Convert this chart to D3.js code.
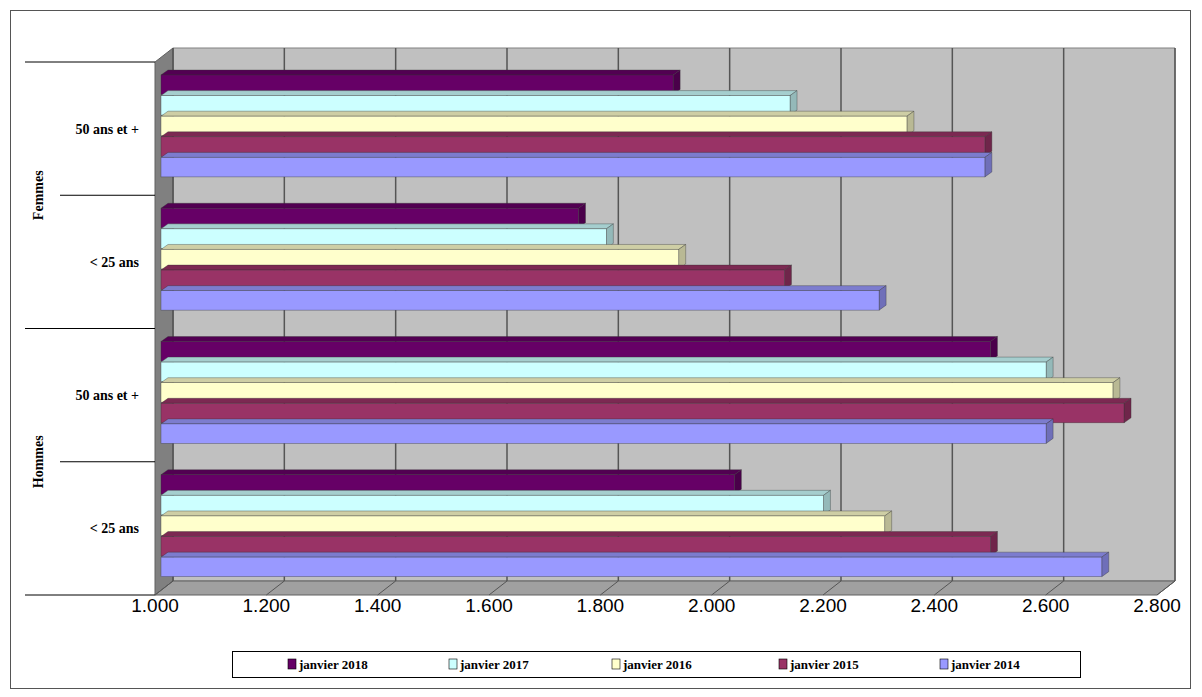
<!DOCTYPE html>
<html><head><meta charset="utf-8">
<script src="https://cdn.jsdelivr.net/npm/d3@7"></script>
<style>body{margin:0;background:#fff}</style>
</head><body>
<svg id="chart" width="1202" height="697"></svg>
<script>
// categories bottom to top (as drawn) and series
var groups = ["Hommes", "Femmes"];
var ages = ["< 25 ans", "50 ans et +", "< 25 ans", "50 ans et +"];
var series = ["janvier 2018", "janvier 2017", "janvier 2016", "janvier 2015", "janvier 2014"];
var colors = ["#660066", "#CCFFFF", "#FFFFCC", "#993366", "#9999FF"];
// values[category][series]
var values = [
  [2.030, 2.190, 2.300, 2.490, 2.690],
  [2.490, 2.590, 2.710, 2.730, 2.590],
  [1.750, 1.800, 1.930, 2.120, 2.290],
  [1.920, 2.130, 2.340, 2.480, 2.480]
];
var ticks = [1.0, 1.2, 1.4, 1.6, 1.8, 2.0, 2.2, 2.4, 2.6, 2.8];

var svg = d3.select("#chart");
svg.append("rect").attr("x", 10.5).attr("y", 10.5).attr("width", 1180).attr("height", 678)
  .attr("fill", "#fff").attr("stroke", "#555");

var x0 = 155, x1 = 1157, yTop = 62, yBot = 595;
var dx = 18, dy = -14;
var x = d3.scaleLinear().domain([1.0, 2.8]).range([x0, x1]);
var y = d3.scaleBand().domain(d3.range(4)).range([yBot, yTop]);

// walls
svg.append("polygon").attr("points", [[x0+dx, yTop+dy], [x1+dx, yTop+dy], [x1+dx, yBot+dy], [x0+dx, yBot+dy]].join(" "))
  .attr("fill", "#C0C0C0").attr("stroke", "#808080");
svg.append("polygon").attr("points", [[x0, yTop], [x0+dx, yTop+dy], [x0+dx, yBot+dy], [x0, yBot]].join(" "))
  .attr("fill", "#808080").attr("stroke", "#606060");
svg.append("polygon").attr("points", [[x0, yBot], [x0+dx, yBot+dy], [x1+dx, yBot+dy], [x1, yBot]].join(" "))
  .attr("fill", "#A0A0A0").attr("stroke", "#606060");
ticks.forEach(function(t) {
  svg.append("line").attr("x1", x(t)+dx).attr("x2", x(t)+dx).attr("y1", yTop+dy).attr("y2", yBot+dy)
    .attr("stroke", "#555").attr("stroke-width", 1.5);
  svg.append("line").attr("x1", x(t)).attr("x2", x(t)+dx).attr("y1", yBot).attr("y2", yBot+dy)
    .attr("stroke", "#555");
});

// bars
var bh = 19.5, bdx = 7, bdy = -5, inset = 6;
values.forEach(function(vals, ci) {
  var top = y(ci) + 13;
  vals.forEach(function(v, si) {
    var yy = top + si * 20.6, xs = x0 + inset, xe = x(v) + inset;
    var c = d3.color(colors[si]);
    var g = svg.append("g").attr("stroke", "#333").attr("stroke-width", 0.6).attr("stroke-opacity", 0.6);
    g.append("polygon").attr("points", [[xs, yy], [xs+bdx, yy+bdy], [xe+bdx, yy+bdy], [xe, yy]].join(" "))
      .attr("fill", c.darker(0.6));
    g.append("polygon").attr("points", [[xe, yy], [xe+bdx, yy+bdy], [xe+bdx, yy+bh+bdy], [xe, yy+bh]].join(" "))
      .attr("fill", c.darker(0.9));
    g.append("rect").attr("x", xs).attr("y", yy).attr("width", xe - xs).attr("height", bh).attr("fill", colors[si]);
  });
});

// x axis labels
svg.append("g").selectAll("text").data(ticks).enter().append("text")
  .attr("x", function(d) { return x(d); }).attr("y", 612)
  .attr("text-anchor", "middle").attr("font-family", "Liberation Sans, Arial").attr("font-size", 19)
  .text(function(d) { return d3.format(".3f")(d); });

// category axis
var lab = "Liberation Serif, Times New Roman";
d3.range(5).forEach(function(i) {
  var yy = i === 4 ? yTop : y(i) + y.bandwidth();
  var xstart = (i % 2 === 0) ? 25 : 60;
  svg.append("line").attr("x1", xstart).attr("x2", x0).attr("y1", yy).attr("y2", yy).attr("stroke", "#000");
});
ages.forEach(function(a, i) {
  svg.append("text").attr("x", 139).attr("y", y(i) + y.bandwidth()/2 + 5).attr("text-anchor", "end")
    .attr("font-family", lab).attr("font-weight", "bold").attr("font-size", 14).text(a);
});
groups.forEach(function(gname, i) {
  var cy = y(i*2);
  svg.append("text").attr("transform", "translate(43," + cy + ") rotate(-90)").attr("text-anchor", "middle")
    .attr("font-family", lab).attr("font-weight", "bold").attr("font-size", 14).text(gname);
});

// legend
svg.append("rect").attr("x", 232.5).attr("y", 651.5).attr("width", 848).attr("height", 26)
  .attr("fill", "#fff").attr("stroke", "#000");
var lx = [288, 449, 612, 779, 940];
series.forEach(function(s, i) {
  svg.append("rect").attr("x", lx[i]).attr("y", 659).attr("width", 8).attr("height", 10)
    .attr("fill", colors[i]).attr("stroke", "#000").attr("stroke-width", 0.6);
  svg.append("text").attr("x", lx[i] + 11).attr("y", 668.5).attr("font-family", lab)
    .attr("font-weight", "bold").attr("font-size", 13).text(s);
});
</script>
</body></html>
